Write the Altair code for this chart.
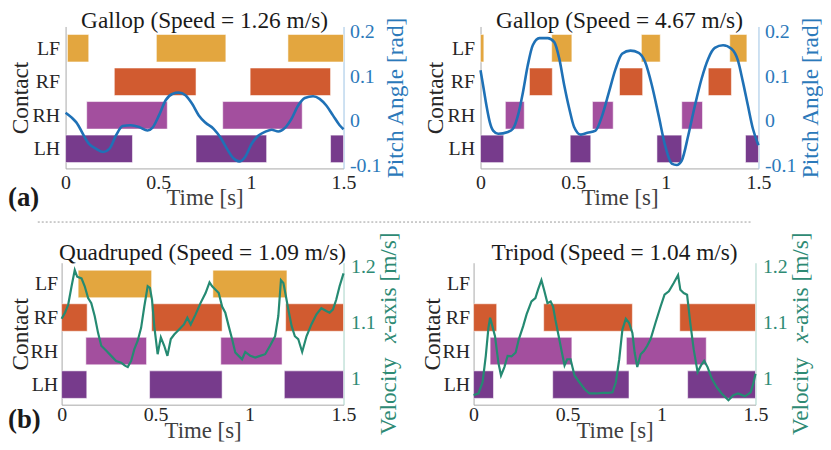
import altair as alt
import pandas as pd

SERIF = "Liberation Serif"
LEGS = ["LF", "RF", "RH", "LH"]
LEG_LEVEL = [4, 3, 2, 1]
LEG_COLORS = ["#E3A63F", "#D15B30", "#A34F9E", "#773B8C"]
BAR_HALF = 0.41

TIME_TICKS = [0, 0.5, 1, 1.5]
PITCH_TICKS = [-0.1, 0, 0.1, 0.2]
VEL_TICKS = [1, 1.1, 1.2]
VEL_TITLE_PARTS = ["Velocity\u00a0 ", "x", "-axis [m/s]"]

# ---------------- (a) Gallop 1.26 m/s ----------------
A1_TITLE = "Gallop (Speed = 1.26 m/s)"
A1_LF = [[0.01, 0.125], [0.49, 0.865], [1.20, 1.5]]
A1_RF = [[0.263, 0.704], [0.996, 1.43]]
A1_RH = [[0.114, 0.549], [0.848, 1.277]]
A1_LH = [[0.0, 0.361], [0.704, 1.085], [1.43, 1.5]]
A1_T = [0, 0.057, 0.125, 0.165, 0.204, 0.236, 0.272, 0.308, 0.352, 0.397, 0.442,
        0.468, 0.504, 0.540, 0.576, 0.611, 0.647, 0.683, 0.719, 0.754, 0.799, 0.835,
        0.871, 0.906, 0.937, 0.969, 1.005, 1.041, 1.076, 1.112, 1.148, 1.184, 1.219,
        1.255, 1.291, 1.336, 1.371, 1.407, 1.443, 1.479, 1.5]
A1_PITCH = [0.018, -0.003, -0.051, -0.063, -0.070, -0.063, -0.033, -0.012, -0.010, -0.014,
            -0.022, -0.016, 0.012, 0.046, 0.060, 0.063, 0.057, 0.038, 0.012, -0.004,
            -0.018, -0.037, -0.063, -0.084, -0.091, -0.081, -0.051, -0.033, -0.025,
            -0.020, -0.024, -0.016, 0.004, 0.034, 0.051, 0.055, 0.049, 0.034, 0.012,
            -0.010, -0.019]

# ---------------- (a) Gallop 4.67 m/s ----------------
A2_TITLE = "Gallop (Speed = 4.67 m/s)"
A2_LF = [[0.0, 0.018], [0.384, 0.493], [0.868, 0.970], [1.345, 1.4375]]
A2_RF = [[0.264, 0.3875], [0.75, 0.875], [1.229, 1.354]]
A2_RH = [[0.134, 0.236], [0.604, 0.716], [1.086, 1.198]]
A2_LH = [[0.0, 0.125], [0.484, 0.595], [0.952, 1.086], [1.43, 1.5]]
A2_T = [0, 0.014, 0.032, 0.05, 0.068, 0.095, 0.148, 0.175, 0.202, 0.229, 0.255, 0.282,
        0.318, 0.363, 0.398, 0.425, 0.452, 0.479, 0.505, 0.541, 0.577, 0.621, 0.657,
        0.693, 0.729, 0.764, 0.809, 0.854, 0.889, 0.925, 0.961, 0.996, 1.032, 1.059,
        1.086, 1.121, 1.157, 1.193, 1.229, 1.264, 1.309, 1.354, 1.389, 1.416, 1.443,
        1.47, 1.5]
A2_PITCH = [0.113, 0.079, 0.034, -0.003, -0.022, -0.029, -0.025, -0.018, 0.012, 0.064,
            0.124, 0.169, 0.185, 0.185, 0.176, 0.139, 0.079, 0.027, -0.014, -0.031,
            -0.027, -0.022, 0.012, 0.064, 0.116, 0.150, 0.157, 0.152, 0.131, 0.079,
            0.012, -0.055, -0.096, -0.099, -0.089, -0.033, 0.034, 0.094, 0.139, 0.163,
            0.169, 0.161, 0.135, 0.087, 0.034, -0.018, -0.055]

# ---------------- (b) Quadruped 1.09 m/s ----------------
B1_TITLE = "Quadruped (Speed = 1.09 m/s)"
B1_LF = [[0.088, 0.479], [0.805, 1.199]]
B1_RF = [[0.0, 0.136], [0.479, 0.854], [1.192, 1.5]]
B1_RH = [[0.129, 0.452], [0.847, 1.173]]
B1_LH = [[0.0, 0.134], [0.468, 0.854], [1.185, 1.5]]
B1_T = [0, 0.018, 0.035, 0.053, 0.07, 0.083, 0.106, 0.123, 0.141, 0.158, 0.176, 0.194,
        0.211, 0.238, 0.264, 0.29, 0.317, 0.335, 0.352, 0.37, 0.387, 0.405, 0.423, 0.44,
        0.458, 0.47, 0.481, 0.493, 0.511, 0.528, 0.546, 0.563, 0.581, 0.599, 0.625,
        0.651, 0.669, 0.687, 0.713, 0.739, 0.766, 0.787, 0.801, 0.819, 0.836, 0.854,
        0.871, 0.889, 0.907, 0.924, 0.942, 0.96, 0.977, 1.004, 1.03, 1.056, 1.083,
        1.109, 1.136, 1.153, 1.167, 1.18, 1.192, 1.206, 1.224, 1.241, 1.259, 1.28,
        1.303, 1.329, 1.356, 1.382, 1.408, 1.426, 1.444, 1.461, 1.479, 1.5]
B1_VEL = [1.107, 1.118, 1.132, 1.165, 1.194, 1.182, 1.179, 1.165, 1.144, 1.135, 1.112,
          1.082, 1.059, 1.05, 1.041, 1.032, 1.029, 1.024, 1.021, 1.032, 1.053, 1.068,
          1.091, 1.129, 1.165, 1.162, 1.141, 1.094, 1.044, 1.074, 1.059, 1.041, 1.071,
          1.079, 1.088, 1.097, 1.109, 1.097, 1.115, 1.135, 1.153, 1.172, 1.165, 1.159,
          1.153, 1.129, 1.118, 1.094, 1.071, 1.047, 1.041, 1.035, 1.048, 1.041, 1.038,
          1.041, 1.044, 1.059, 1.076, 1.112, 1.176, 1.171, 1.15, 1.124, 1.094, 1.076,
          1.071, 1.048, 1.076, 1.097, 1.115, 1.126, 1.121, 1.118, 1.124, 1.141, 1.165,
          1.188]

# ---------------- (b) Tripod 1.04 m/s ----------------
B2_TITLE = "Tripod (Speed = 1.04 m/s)"
B2_LF = []
B2_RF = [[0.0, 0.123], [0.373, 0.845], [1.097, 1.5]]
B2_RH = [[0.088, 0.523], [0.813, 1.238]]
B2_LH = [[0.0, 0.106], [0.421, 0.827], [1.139, 1.5]]
B2_T = [0, 0.026, 0.048, 0.065, 0.079, 0.088, 0.1, 0.114, 0.132, 0.146, 0.164, 0.181,
        0.202, 0.224, 0.241, 0.264, 0.282, 0.308, 0.329, 0.343, 0.361, 0.375, 0.393,
        0.41, 0.423, 0.435, 0.453, 0.47, 0.484, 0.498, 0.516, 0.537, 0.563, 0.59,
        0.616, 0.651, 0.687, 0.717, 0.739, 0.757, 0.775, 0.792, 0.81, 0.827, 0.845,
        0.857, 0.871, 0.889, 0.907, 0.924, 0.942, 0.968, 0.995, 1.016, 1.039, 1.065,
        1.088, 1.1, 1.118, 1.136, 1.153, 1.171, 1.192, 1.21, 1.227, 1.245, 1.268,
        1.294, 1.32, 1.356, 1.382, 1.408, 1.444, 1.474, 1.488, 1.5]
B2_VEL = [0.971, 0.974, 0.994, 1.041, 1.091, 1.109, 1.094, 1.076, 1.029, 1.006, 1.021,
          1.041, 1.04, 1.047, 1.071, 1.094, 1.115, 1.138, 1.144, 1.159, 1.176, 1.159,
          1.135, 1.138, 1.129, 1.106, 1.076, 1.047, 1.024, 1.035, 1.035, 1.006, 0.994,
          0.982, 0.974, 0.974, 0.975, 0.975, 0.976, 0.994, 1.035, 1.088, 1.107, 1.1,
          1.082, 1.047, 1.021, 1.044, 1.05, 1.059, 1.071, 1.1, 1.129, 1.15, 1.156,
          1.171, 1.185, 1.159, 1.153, 1.15, 1.1, 1.053, 1.012, 1.024, 1.032, 1.021,
          1.0, 0.985, 0.974, 0.962, 0.971, 0.974, 0.969, 0.976, 0.991, 1.009]

PITCH_BLUE = "#1f71b6"
PITCH_AXIS = "#2b79ba"
VEL_GREEN = "#258a72"
VEL_AXIS = "#2e8a74"
INK = "#262626"
TITLE_FS = 23.5


def contact_df(lf, rf, rh, lh):
    rows = []
    for leg, lvl, ivs in zip(LEGS, LEG_LEVEL, [lf, rf, rh, lh]):
        for s, e in ivs:
            rows.append({"leg": leg, "start": s, "end": e,
                         "lo": lvl - BAR_HALF, "hi": lvl + BAR_HALF})
    return pd.DataFrame(rows)


def one():
    return pd.DataFrame({"a": [0]})


def panel(title, contacts, t, v, cfg, extra=()):
    xscale = alt.Scale(domain=[0, 1.5], range=cfg["xrange"], nice=False, zero=False)
    xaxis = alt.Axis(values=TIME_TICKS, labelExpr="format(datum.value, '~g')",
                     title="Time [s]", labelFontSize=20, titleFontSize=23,
                     labelColor=INK, titleColor="#404040", titleFontWeight="normal",
                     labelPadding=cfg["xlabpad"], titlePadding=cfg["xtitlepad"],
                     ticks=False, tickSize=0, domainColor="#a8a8a8",
                     labelFlush=False, labelOverlap=False, grid=False)
    bars = alt.Chart(contacts).mark_rect(stroke="white", strokeWidth=1,
                                         strokeOpacity=0.55).encode(
        x=alt.X("start:Q", scale=xscale, axis=xaxis),
        x2="end:Q",
        y=alt.Y("lo:Q", scale=alt.Scale(domain=cfg["cdom"], nice=False, zero=False),
                axis=alt.Axis(orient="left", values=[1, 2, 3, 4],
                              labelExpr="['', 'LH', 'RH', 'RF', 'LF'][datum.value]",
                              title="Contact", labelFontSize=20, titleFontSize=TITLE_FS,
                              labelColor=INK, titleColor=INK, titleFontWeight="normal",
                              labelPadding=cfg["clabpad"], titlePadding=cfg["ctitlepad"],
                              ticks=False, tickSize=0, domainColor="#a8a8a8",
                              offset=cfg["coffset"], labelFlush=False,
                              labelOverlap=False, grid=False)),
        y2="hi:Q",
        color=alt.Color("leg:N", scale=alt.Scale(domain=LEGS, range=LEG_COLORS),
                        legend=None),
    )
    line = alt.Chart(pd.DataFrame({"t": t, "v": v})).mark_line(
        color=cfg["lcolor"], strokeWidth=cfg["lwidth"], interpolate=cfg["interp"]
    ).encode(
        x=alt.X("t:Q", scale=xscale, axis=xaxis),
        y=alt.Y("v:Q", scale=alt.Scale(domain=cfg["vdom"], nice=False, zero=False),
                axis=alt.Axis(orient="right", values=cfg["vticks"],
                              labelExpr="(datum.value < 0 ? '-' : '') + format(abs(datum.value), '~g')",
                              title=cfg["vtitle"], labelFontSize=20, titleFontSize=TITLE_FS,
                              labelColor=cfg["acolor"], titleColor=cfg["acolor"],
                              titleFontWeight="normal", titleAngle=270,
                              titleBaseline="top",
                              labelPadding=cfg["vlabpad"], titlePadding=cfg["vtitlepad"],
                              ticks=False, tickSize=0, domainColor=cfg["dcolor"],
                              labelFlush=False, labelOverlap=False, grid=False)),
    )
    ttl = alt.Chart(one()).mark_text(font=SERIF, fontSize=TITLE_FS, color="#1a1a1a",
                                     align="center", baseline="alphabetic").encode(
        x=alt.value(cfg["tx"]), y=alt.value(cfg["ty"]), text=alt.value(title))
    layers = [bars, line, ttl] + list(extra)
    return alt.layer(*layers).resolve_scale(y="independent").properties(
        width=cfg["width"], height=143)


def velocity_title():
    # rotated title built from three pieces so that the "x" can be italic
    widths = [3.944, 0.444, 4.305]          # em widths of the three pieces
    total = sum(widths) * TITLE_FS
    start = 71.5 + total / 2
    marks = []
    pos = start
    for text, w, style in zip(VEL_TITLE_PARTS, widths, ["normal", "italic", "normal"]):
        marks.append(alt.Chart(one()).mark_text(
            font=SERIF, fontSize=TITLE_FS, fontStyle=style, color=VEL_AXIS,
            angle=270, align="left", baseline="alphabetic").encode(
            x=alt.value(336.5), y=alt.value(pos), text=alt.value(text)))
        pos -= w * TITLE_FS
    return marks


TOP_COMMON = dict(xlabpad=4.5, xtitlepad=-6, cdom=[0.417, 4.648],
                  clabpad=6, ctitlepad=0, vdom=[-0.1067, 0.211],
                  vticks=PITCH_TICKS, vtitle="Pitch Angle [rad]", acolor=PITCH_AXIS,
                  dcolor="#9cc3e4", vlabpad=6, vtitlepad=3, lcolor=PITCH_BLUE,
                  lwidth=2.6, interp="monotone", ty=2)
TOP_L = dict(TOP_COMMON, width=284, xrange=[4, 284], coffset=-4, tx=144)
TOP_R = dict(TOP_COMMON, width=287, xrange=[7, 287], coffset=-7, tx=147)
BOT = dict(width=284, xrange=[0, 284], xlabpad=0, xtitlepad=-4.5, cdom=[0.402, 4.633],
           clabpad=4, ctitlepad=-2, coffset=0, vdom=[0.954, 1.207],
           vticks=VEL_TICKS, vtitle="", acolor=VEL_AXIS,
           dcolor="#a5d3c8", vlabpad=7, vtitlepad=1.5, lcolor=VEL_GREEN, lwidth=2.2,
           interp="linear", tx=142, ty=-3)

anchor = alt.Chart(one()).mark_point(filled=True, size=0, opacity=0,
                                     strokeWidth=0).encode(
    x=alt.value(-54), y=alt.value(-17))
label_a = alt.Chart(one()).mark_text(font=SERIF, fontSize=27, fontWeight="bold",
                                     color="#1a1a1a", align="left",
                                     baseline="middle").encode(
    x=alt.value(-54), y=alt.value(173), text=alt.value("(a)"))
divider = alt.Chart(one()).mark_rule(color="#9a9a9a", strokeWidth=1,
                                     strokeDash=[2, 2]).encode(
    x=alt.value(-24), x2=alt.value(695), y=alt.value(197))
label_b = alt.Chart(one()).mark_text(font=SERIF, fontSize=27, fontWeight="bold",
                                     color="#1a1a1a", align="left",
                                     baseline="middle").encode(
    x=alt.value(-54), y=alt.value(158), text=alt.value("(b)"))

p_a1 = panel(A1_TITLE, contact_df(A1_LF, A1_RF, A1_RH, A1_LH), A1_T, A1_PITCH, TOP_L,
             extra=(anchor, label_a, divider))
p_a2 = panel(A2_TITLE, contact_df(A2_LF, A2_RF, A2_RH, A2_LH), A2_T, A2_PITCH, TOP_R)
p_b1 = panel(B1_TITLE, contact_df(B1_LF, B1_RF, B1_RH, B1_LH), B1_T, B1_VEL, BOT,
             extra=[label_b] + velocity_title())
p_b2 = panel(B2_TITLE, contact_df(B2_LF, B2_RF, B2_RH, B2_LH), B2_T, B2_VEL, BOT,
             extra=velocity_title())

chart = alt.concat(p_a1, p_a2, p_b1, p_b2, columns=2,
                   spacing={"row": 95, "column": 131}, bounds="flush",
                   align="each").properties(
    padding={"left": 0, "top": 0, "right": 0, "bottom": 0}
).configure(font=SERIF).configure_view(stroke=None).configure_axis(
    labelFont=SERIF, titleFont=SERIF, grid=False)

chart.save("out.html", embed_options={"renderer": "svg", "actions": False})
